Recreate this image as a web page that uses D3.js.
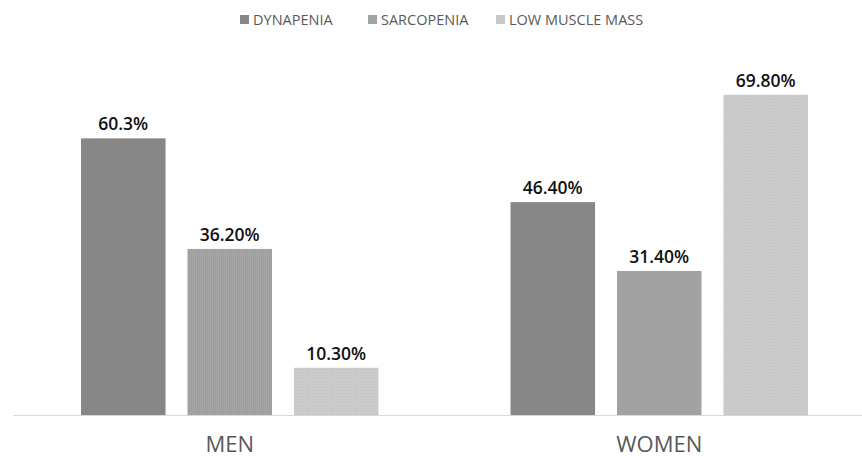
<!DOCTYPE html>
<meta charset="utf-8">
<head>
  <title>Dynapenia, sarcopenia, low muscle mass</title>
</head>
<style>
  body { margin: 0; background: #fff; }
  text { font-family: "Open Sans", "Liberation Sans", sans-serif; }
</style>
<body>
  <div id="content"></div>
  <script src="https://cdnjs.cloudflare.com/ajax/libs/d3/7.8.5/d3.min.js"></script>
  <script>

const width = 862
const height = 460

var groups = ["MEN", "WOMEN"];
var series = ["DYNAPENIA", "SARCOPENIA", "LOW MUSCLE MASS"];
var dynapenia = [60.3, 46.4];
var sarcopenia = [36.2, 31.4];
var lowMass = [10.3, 69.8];
var valueLabels = [["60.3%", "36.20%", "10.30%"], ["46.40%", "31.40%", "69.80%"]];

var colors = { "DYNAPENIA": "#878787", "SARCOPENIA": "#a3a3a3", "LOW MUSCLE MASS": "#c8c8c8" };
var fills = { "DYNAPENIA": "#878787", "SARCOPENIA": "url(#stripes)", "LOW MUSCLE MASS": "url(#dots)" };

var rows = groups.map(function(g, i) {
  return { group: g, values: [dynapenia[i], sarcopenia[i], lowMass[i]], labels: valueLabels[i] };
});

const svg = d3.select('#content')
  .append('svg')
    .attr('width', width)
    .attr('height', height)

// light textures like the office fills
var defs = svg.append('defs');
var st = defs.append('pattern').attr('id', 'stripes')
  .attr('width', 2).attr('height', 4).attr('patternUnits', 'userSpaceOnUse');
st.append('rect').attr('width', 2).attr('height', 4).attr('fill', '#a6a6a6');
st.append('rect').attr('width', 1).attr('height', 4).attr('fill', '#9e9e9e');
var dt = defs.append('pattern').attr('id', 'dots')
  .attr('width', 3).attr('height', 3).attr('patternUnits', 'userSpaceOnUse');
dt.append('rect').attr('width', 3).attr('height', 3).attr('fill', '#cbcbcb');
dt.append('rect').attr('width', 1).attr('height', 1).attr('fill', '#c0c0c0');

var baseline = 415;

var x0 = d3.scaleBand()
  .domain(groups)
  .range([15, 874])

var x1 = d3.scaleBand()
  .domain(series)
  .range([0, x0.bandwidth()])
  .paddingInner(0.206)
  .paddingOuter(0.62)

var y = d3.scaleLinear()
  .domain([0, 80])
  .range([baseline, baseline - 367])

// axis line
svg.append('line')
  .attr('x1', 13).attr('x2', width)
  .attr('y1', baseline + 0.5).attr('y2', baseline + 0.5)
  .attr('stroke', '#d9d9d9').attr('stroke-width', 1)

var g = svg.selectAll('g.grp')
  .data(rows)
  .enter().append('g')
    .attr('class', 'grp')
    .attr('transform', function(d) { return 'translate(' + x0(d.group) + ',0)' })

g.selectAll('rect')
  .data(function(d) { return d.values.map(function(v, i) { return { s: series[i], v: v, label: d.labels[i] } }) })
  .enter().append('rect')
    .attr('x', function(d) { return x1(d.s) })
    .attr('y', function(d) { return y(d.v) })
    .attr('width', x1.bandwidth())
    .attr('height', function(d) { return baseline - y(d.v) })
    .attr('fill', function(d) { return fills[d.s] })

g.selectAll('text.val')
  .data(function(d) { return d.values.map(function(v, i) { return { s: series[i], v: v, label: d.labels[i] } }) })
  .enter().append('text')
    .attr('class', 'val')
    .attr('x', function(d) { return x1(d.s) + x1.bandwidth() / 2 })
    .attr('y', function(d) { return y(d.v) - 8 })
    .attr('text-anchor', 'middle')
    .style('font-size', '17.5px')
    .style('font-weight', '600')
    .style('fill', '#111')
    .text(function(d) { return d.label })

// category labels
svg.selectAll('text.cat')
  .data(groups)
  .enter().append('text')
    .attr('class', 'cat')
    .attr('x', function(d) { return x0(d) + x0.bandwidth() / 2 })
    .attr('y', 452)
    .attr('text-anchor', 'middle')
    .style('font-size', '22px')
    .style('fill', '#595959')
    .text(function(d) { return d })

// legend
var legendX = [240, 368, 496];
var leg = svg.selectAll('g.leg')
  .data(series)
  .enter().append('g')
    .attr('class', 'leg')
    .attr('transform', function(d, i) { return 'translate(' + legendX[i] + ',15)' })
leg.append('rect')
  .attr('width', 9).attr('height', 9)
  .attr('fill', function(d) { return colors[d] })
leg.append('text')
  .attr('x', 13).attr('y', 10)
  .style('font-size', '14.5px')
  .style('fill', '#595959')
  .text(function(d) { return d })

  </script>
</body>
</html>
